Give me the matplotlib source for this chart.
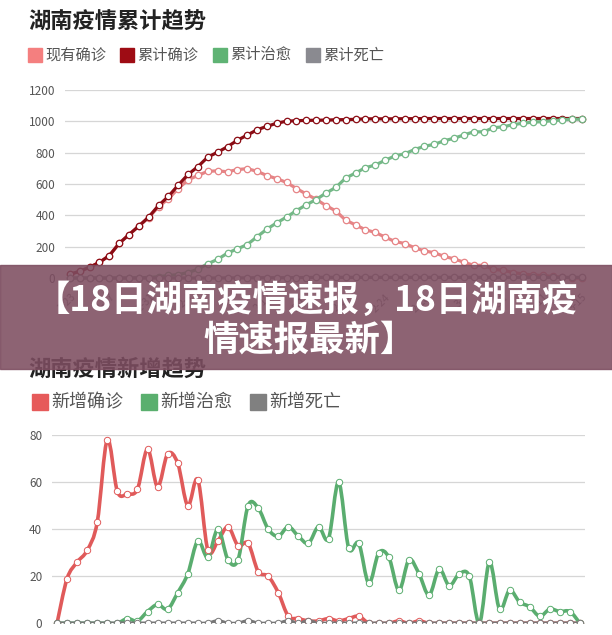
import numpy as np
import matplotlib.pyplot as plt
from matplotlib.path import Path
from matplotlib.patches import PathPatch, Rectangle

plt.rcParams['font.family'] = ['Noto Sans CJK SC', 'DejaVu Sans']

# 日期 1-23 ~ 3-15
dates = ['1-23', '1-24', '1-25', '1-26', '1-27', '1-28', '1-29', '1-30', '1-31',
         '2-1', '2-2', '2-3', '2-4', '2-5', '2-6', '2-7', '2-8', '2-9', '2-10',
         '2-11', '2-12', '2-13', '2-14', '2-15', '2-16', '2-17', '2-18', '2-19',
         '2-20', '2-21', '2-22', '2-23', '2-24', '2-25', '2-26', '2-27', '2-28',
         '2-29', '3-1', '3-2', '3-3', '3-4', '3-5', '3-6', '3-7', '3-8', '3-9',
         '3-10', '3-11', '3-12', '3-13', '3-14', '3-15']

# 累计趋势
existing = [24, 43, 69, 100, 143, 221, 277, 330, 386, 455, 505, 571, 626, 655, 681,
            684, 678, 692, 698, 681, 654, 634, 610, 571, 536, 502, 462, 428, 369, 339,
            308, 291, 261, 233, 220, 193, 173, 161, 138, 122, 101, 81, 81, 55, 49,
            35, 26, 19, 16, 10, 5, 0, 0]
total = [24, 43, 69, 100, 143, 221, 277, 332, 389, 463, 521, 593, 661, 711, 772,
         803, 838, 879, 912, 946, 968, 988, 1001, 1004, 1006, 1007, 1008, 1010, 1011,
         1013, 1016, 1016, 1016, 1016, 1017, 1017, 1018, 1018, 1018, 1018, 1018, 1018,
         1018, 1018, 1018, 1018, 1018, 1018, 1018, 1018, 1018, 1018, 1018]
cured = [0, 0, 0, 0, 0, 0, 0, 2, 3, 8, 16, 22, 35, 56, 91, 119, 159, 186, 213, 263,
         312, 352, 389, 430, 467, 501, 542, 578, 638, 670, 704, 721, 751, 779, 793,
         820, 841, 853, 876, 892, 913, 933, 933, 959, 965, 979, 988, 995, 998, 1004,
         1009, 1014, 1014]
dead = [0, 0, 0, 0, 0, 0, 0, 0, 0, 0, 0, 0, 0, 0, 0, 0, 1, 1, 1, 2, 2, 2, 2, 3, 3,
        4, 4, 4, 4, 4, 4, 4, 4, 4, 4, 4, 4, 4, 4, 4, 4, 4, 4, 4, 4, 4, 4, 4, 4, 4,
        4, 4, 4]

# 新增趋势
new_conf = [0, 19, 26, 31, 43, 78, 56, 55, 57, 74, 58, 72, 68, 50, 61, 31, 35, 41,
            33, 34, 22, 20, 13, 3, 2, 1, 1, 2, 1, 2, 3, 0, 0, 0, 1, 0, 1, 0, 0, 0,
            0, 0, 0, 0, 0, 0, 0, 0, 0, 0, 0, 0, 0]
new_cured = [0, 0, 0, 0, 0, 0, 0, 2, 1, 5, 8, 6, 13, 21, 35, 28, 40, 27, 27, 50, 49,
             40, 37, 41, 37, 34, 41, 36, 60, 32, 34, 17, 30, 28, 14, 27, 21, 12, 23,
             16, 21, 20, 0, 26, 6, 14, 9, 7, 3, 6, 5, 5, 0]
new_dead = [0, 0, 0, 0, 0, 0, 0, 0, 0, 0, 0, 0, 0, 0, 0, 0, 1, 0, 0, 1, 0, 0, 0, 1,
            0, 1, 0, 0, 0, 0, 0, 0, 0, 0, 0, 0, 0, 0, 0, 0, 0, 0, 0, 0, 0, 0, 0, 0,
            0, 0, 0, 0, 0]

W, H = 612, 635
fig = plt.figure(figsize=(W / 100, H / 100), dpi=100)


def fx(px):
    return px / W


def fy(py):
    return 1 - py / H


def legend(items, x0s, yc, sq, fs):
    for (label, color), x0 in zip(items, x0s):
        fig.patches.append(Rectangle((fx(x0), fy(yc + sq / 2)), sq / W, sq / H,
                                     transform=fig.transFigure, color=color, zorder=3))
        fig.text(fx(x0 + sq + 3), fy(yc), label, fontsize=fs, color='#555555',
                 va='center', ha='left')


def style(ax, ticks):
    for s in ax.spines.values():
        s.set_visible(False)
    ax.set_yticks(ticks)
    ax.yaxis.grid(True, color='#d6d6d6', lw=0.9)
    ax.set_axisbelow(True)
    ax.tick_params(axis='y', length=0, pad=7, labelsize=8.5, labelcolor='#555555')


def smooth(x, y):
    # Catmull-Rom 转 Bezier, 只用于画平滑曲线
    x = np.asarray(x, float)
    y = np.asarray(y, float)
    n = len(x)
    verts = [(x[0], y[0])]
    codes = [Path.MOVETO]
    for i in range(n - 1):
        p0 = i - 1 if i > 0 else i
        p3 = i + 2 if i + 2 < n else i + 1
        c1 = (x[i] + (x[i + 1] - x[p0]) / 6, y[i] + (y[i + 1] - y[p0]) / 6)
        c2 = (x[i + 1] - (x[p3] - x[i]) / 6, y[i + 1] - (y[p3] - y[i]) / 6)
        verts += [c1, c2, (x[i + 1], y[i + 1])]
        codes += [Path.CURVE4] * 3
    return Path(verts, codes)


# ---------- 累计趋势 ----------
fig.text(fx(28), fy(22), '湖南疫情累计趋势', fontsize=16, fontweight='bold',
         color='#222222', va='center')
legend([('现有确诊', '#f47f7f'), ('累计确诊', '#9e0c14'),
        ('累计治愈', '#5fb374'), ('累计死亡', '#8a8a90')],
       [28, 120, 213, 306], 55, 14, 11)

ax1 = fig.add_axes([fx(65), fy(278), (585 - 65) / W, (278 - 90) / H])
x = np.arange(len(dates))
series1 = [(existing, '#e68486'), (total, '#8b0c14'), (cured, '#74b887'), (dead, '#8a8a8a')]
for vals, c in series1:
    ax1.plot(x, vals, color=c, lw=2.3, marker='o', ms=4.6, mfc='white', mec=c,
             mew=0.9, clip_on=False)
ax1.set_xlim(-0.5, 52.3)
ax1.set_ylim(0, 1200)
style(ax1, [0, 200, 400, 600, 800, 1000, 1200])
ax1.set_xticks(x[::4])
ax1.set_xticklabels(dates[::4], rotation=45, ha='right', va='top',
                    rotation_mode='anchor', fontsize=7.5, color='#777777')
ax1.tick_params(axis='x', length=0, pad=10)

# ---------- 新增趋势 ----------
fig.text(fx(28), fy(369), '湖南疫情新增趋势', fontsize=16, fontweight='bold',
         color='#222222', va='center')
legend([('新增确诊', '#e65a5a'), ('新增治愈', '#5aaf6e'), ('新增死亡', '#808080')],
       [32, 141, 250], 402, 16, 13)

ax2 = fig.add_axes([fx(52), fy(623.3), (585 - 52) / W, (623.3 - 435) / H])
series2 = [(new_conf, '#e05a5a'), (new_cured, '#5aad6f'), (new_dead, '#777777')]
for vals, c in series2:
    ax2.add_patch(PathPatch(smooth(x, vals), fill=False, edgecolor=c, lw=2.6,
                            capstyle='round', joinstyle='round'))
    ax2.plot(x, vals, ls='none', marker='o', ms=4.6, mfc='white', mec=c, mew=0.7)
ax2.set_xlim(-0.5, 52.5)
ax2.set_ylim(0, 80)
style(ax2, [0, 20, 40, 60, 80])
ax2.set_xticks([])

# ---------- 标题横幅 ----------
fig.patches.append(Rectangle((0, fy(369)), 1, (369 - 265) / H, transform=fig.transFigure,
                             color='#7d4d60', alpha=0.88, zorder=10))
fig.text(0.5, fy(300), '【18日湖南疫情速报，18日湖南疫', fontsize=25.5, fontweight='bold',
         color='white', ha='center', va='center', zorder=11)
fig.text(fx(310), fy(340), '情速报最新】', fontsize=25.5, fontweight='bold',
         color='white', ha='center', va='center', zorder=11)

fig.savefig('out.png', dpi=100)
